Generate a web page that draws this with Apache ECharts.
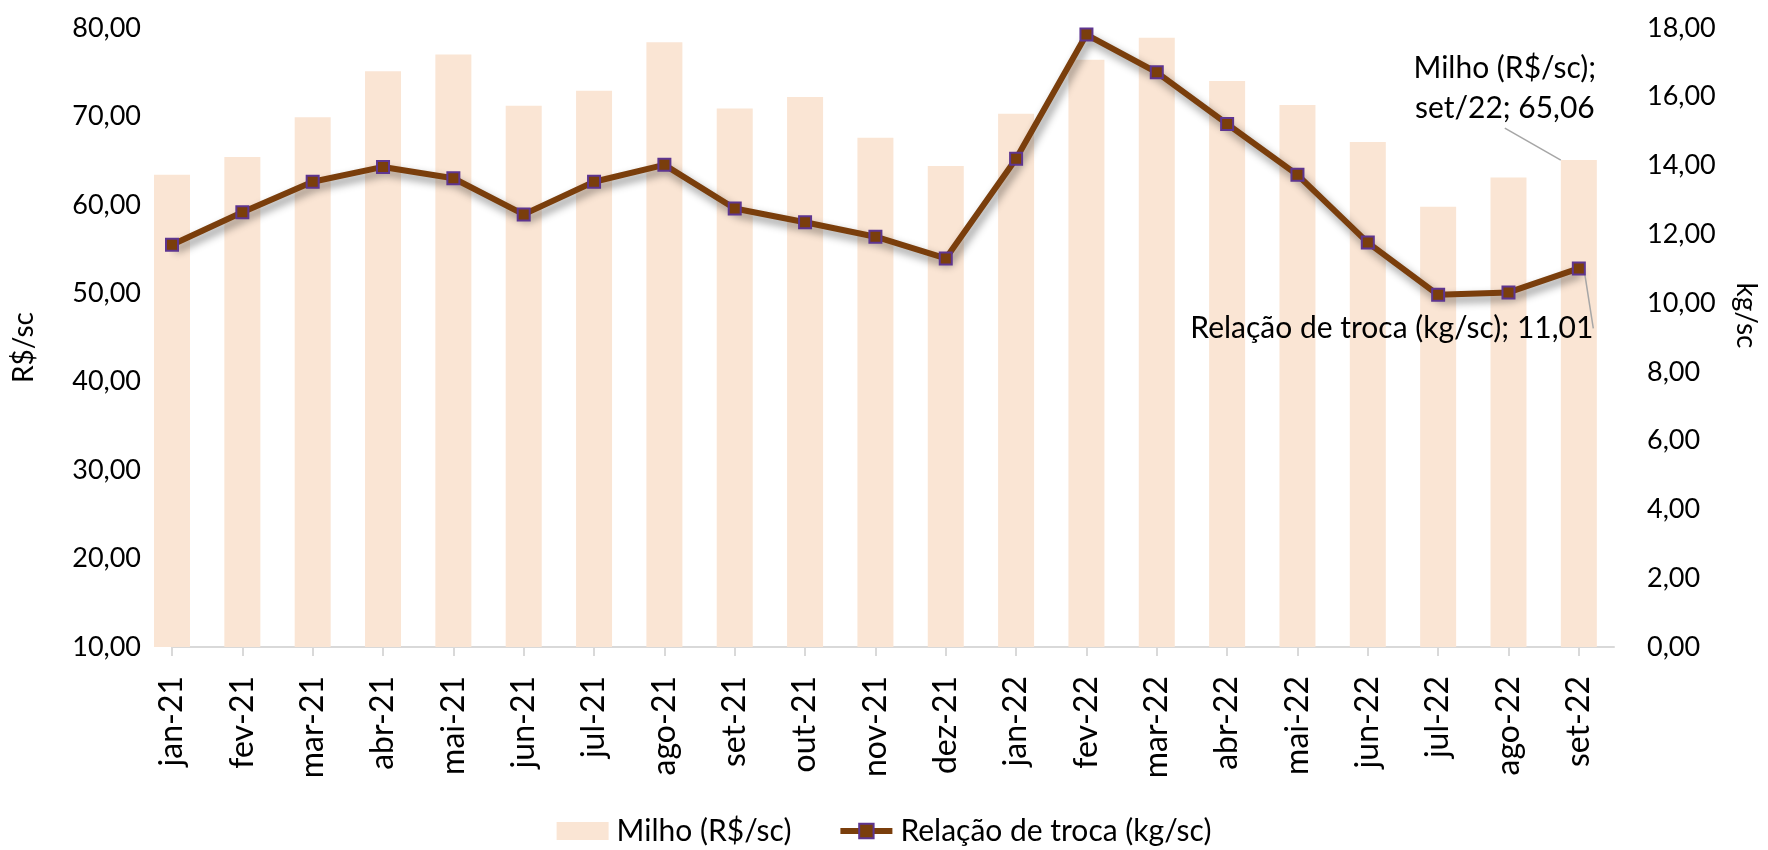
<!DOCTYPE html>
<html>
<head>
<meta charset="utf-8">
<script src="https://cdn.jsdelivr.net/npm/echarts@6/dist/echarts.min.js"></script>
<style>
  html, body { margin: 0; padding: 0; background: #ffffff; }
  #chart { width: 1768px; height: 850px; }
</style>
</head>
<body>
<div id="chart"></div>
<script>
const categories = ['jan-21','fev-21','mar-21','abr-21','mai-21','jun-21','jul-21','ago-21','set-21','out-21','nov-21','dez-21','jan-22','fev-22','mar-22','abr-22','mai-22','jun-22','jul-22','ago-22','set-22'];
const milho = [63.4, 65.4, 69.9, 75.1, 77.0, 71.2, 72.9, 78.4, 70.9, 72.2, 67.6, 64.4, 70.3, 76.4, 78.9, 74.0, 71.3, 67.1, 59.8, 63.1, 65.06];
const relacao = [11.70, 12.64, 13.53, 13.96, 13.63, 12.58, 13.53, 14.02, 12.75, 12.35, 11.93, 11.30, 14.20, 17.81, 16.71, 15.21, 13.73, 11.76, 10.24, 10.31, 11.01];
const leftTicks = { min: 10, max: 80, interval: 10 };
const rightTicks = { min: 0, max: 18, interval: 2 };
const seriesNames = ['Milho (R$/sc)', 'Relação de troca (kg/sc)'];
const axisNames = ['R$/sc', 'kg/sc'];
const lastLabelMonth = 'set/22';

const FONT = 'Lato';
const fmt = v => v.toFixed(2).replace('.', ',');
const lastIdx = categories.length - 1;
const idx = categories.map((c, i) => i);
const guide = { show: true, lineStyle: { color: '#A6A6A6', width: 1.5 } };

const barData = milho.map((v, i) => i === lastIdx ? {
  value: [i, v],
  label: {
    show: true, position: 'top', fontFamily: FONT, fontSize: 30, lineHeight: 40, color: '#000', align: 'center',
    formatter: p => seriesNames[0] + ';\n' + lastLabelMonth + '; ' + fmt(p.value[1])
  },
  labelLine: guide
} : [i, v]);

const lineData = relacao.map((v, i) => i === lastIdx ? {
  value: [i, v],
  label: {
    show: true, position: 'bottom', fontFamily: FONT, fontSize: 30, color: '#000',
    formatter: p => seriesNames[1] + '; ' + fmt(p.value[1])
  },
  labelLine: guide
} : [i, v]);

const chart = echarts.init(document.getElementById('chart'), null, { renderer: 'canvas' });
chart.setOption({
  animation: false,
  backgroundColor: '#ffffff',
  textStyle: { fontFamily: FONT, color: '#000' },
  grid: { left: 172, right: 148, top: 28, bottom: 203, containLabel: false },
  legend: {
    bottom: -1,
    left: 'center',
    itemWidth: 52,
    itemHeight: 18,
    itemGap: 46,
    textStyle: { fontFamily: FONT, fontSize: 30, color: '#000', padding: [0, 0, 0, 3] },
    data: [
      { name: seriesNames[0], icon: 'rect' },
      { name: seriesNames[1], lineStyle: { width: 6 } }
    ]
  },
  xAxis: {
    type: 'value',
    min: 0,
    max: lastIdx + 0.5,
    interval: 1,
    splitLine: { show: false },
    axisLine: { show: true, lineStyle: { color: '#D9D9D9', width: 2 } },
    axisTick: { show: true, length: 9, lineStyle: { color: '#D9D9D9', width: 2 }, customValues: idx },
    axisLabel: {
      customValues: idx,
      rotate: 90,
      margin: 29,
      fontFamily: FONT,
      fontSize: 32,
      color: '#000',
      formatter: v => categories[Math.round(v)] || ''
    }
  },
  yAxis: [
    {
      type: 'value',
      min: leftTicks.min, max: leftTicks.max, interval: leftTicks.interval,
      name: axisNames[0],
      nameLocation: 'middle',
      nameGap: 134,
      nameRotate: 90,
      nameTextStyle: { fontFamily: FONT, fontSize: 28, color: '#000', padding: [0, 20, 0, 0] },
      splitLine: { show: false },
      axisLine: { show: false },
      axisTick: { show: false },
      axisLabel: { margin: 31, fontFamily: FONT, fontSize: 27, color: '#000', formatter: fmt }
    },
    {
      type: 'value',
      min: rightTicks.min, max: rightTicks.max, interval: rightTicks.interval,
      name: axisNames[1],
      nameLocation: 'middle',
      nameGap: 118,
      nameRotate: -90,
      nameTextStyle: { fontFamily: FONT, fontSize: 28, color: '#000', padding: [0, 44, 0, 0] },
      splitLine: { show: false },
      axisLine: { show: false },
      axisTick: { show: false },
      axisLabel: { margin: 33, fontFamily: FONT, fontSize: 27, color: '#000', formatter: fmt }
    }
  ],
  series: [
    {
      name: seriesNames[0],
      type: 'bar',
      yAxisIndex: 0,
      barWidth: 36,
      clip: true,
      itemStyle: { color: '#FAE5D4' },
      data: barData,
      labelLayout: p => p.dataIndex === lastIdx ? { dx: -74, dy: -27 } : {}
    },
    {
      name: seriesNames[1],
      type: 'line',
      yAxisIndex: 1,
      symbol: 'rect',
      symbolSize: 12,
      z: 5,
      lineStyle: { color: '#7A3E0C', width: 6, shadowColor: 'rgba(0,0,0,0.45)', shadowBlur: 9, shadowOffsetX: 3, shadowOffsetY: 5 },
      itemStyle: { color: '#7A3E0C', borderColor: '#5E3590', borderWidth: 2 },
      data: lineData,
      labelLayout: p => p.dataIndex === lastIdx ? { dx: -187, dy: 33 } : {}
    }
  ]
});
</script>
</body>
</html>
